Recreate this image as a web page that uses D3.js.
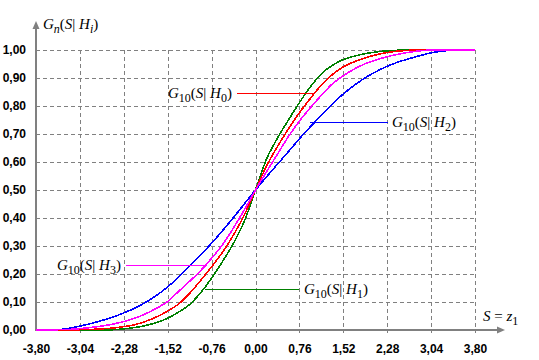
<!DOCTYPE html>
<html><head><meta charset="utf-8">
<script src="https://cdn.jsdelivr.net/npm/d3@7/dist/d3.min.js"></script>
<style>
body{margin:0;background:#fff;}
svg{display:block;}
.tick text{font-family:"Liberation Sans",Arial,sans-serif;font-weight:bold;font-size:12px;fill:#000;}
.math{font-family:"Liberation Serif","Times New Roman",serif;font-size:15px;fill:#000;}
</style></head>
<body><svg id="c" width="539" height="360"></svg>
<script>
// ---- data ----
const S = [-3.80,-3.61,-3.42,-3.23,-3.04,-2.85,-2.66,-2.47,-2.28,-2.09,-1.90,-1.71,-1.52,-1.33,-1.14,-0.95,-0.76,-0.57,-0.38,-0.19,0.00,
           0.19,0.38,0.57,0.76,0.95,1.14,1.33,1.52,1.71,1.90,2.09,2.28,2.47,2.66,2.85,3.04,3.23,3.42,3.61,3.80];
const G_H1 = [0,0,0,0,0,0,0,0.001,0.004,0.009,0.016,0.027,0.042,0.064,0.091,0.133,0.185,0.245,0.310,0.390,0.500,
              0.610,0.685,0.750,0.812,0.868,0.915,0.945,0.966,0.978,0.987,0.993,0.997,0.999,1,1,1,1,1,1,1];
const G_H0 = [0,0,0,0,0.001,0.002,0.004,0.007,0.012,0.019,0.031,0.047,0.068,0.093,0.131,0.177,0.226,0.278,0.340,0.412,0.500,
              0.585,0.655,0.718,0.776,0.827,0.875,0.912,0.940,0.958,0.972,0.983,0.991,0.996,0.999,1,1,1,1,1,1];
const G_H3 = [0,0,0.001,0.002,0.005,0.009,0.014,0.021,0.030,0.042,0.058,0.078,0.102,0.138,0.174,0.212,0.256,0.305,0.365,0.430,0.500,
              0.565,0.628,0.691,0.746,0.794,0.838,0.879,0.908,0.932,0.951,0.965,0.976,0.985,0.992,0.997,1,1,1,1,1];
const G_H2 = [0,0,0.001,0.006,0.014,0.023,0.034,0.046,0.061,0.078,0.099,0.124,0.154,0.189,0.228,0.268,0.310,0.355,0.402,0.451,0.500,
              0.547,0.592,0.637,0.683,0.726,0.767,0.807,0.843,0.874,0.901,0.923,0.942,0.957,0.969,0.980,0.990,0.996,0.999,1,1];
const xTicks = [-3.80,-3.04,-2.28,-1.52,-0.76,0.00,0.76,1.52,2.28,3.04,3.80];
const xTickLabels = ["-3,80","-3,04","-2,28","-1,52","-0,76","0,00","0,76","1,52","2,28","3,04","3,80"];
const yTicks = [0,0.1,0.2,0.3,0.4,0.5,0.6,0.7,0.8,0.9,1.0];
const yTickLabels = ["0,00","0,10","0,20","0,30","0,40","0,50","0,60","0,70","0,80","0,90","1,00"];
const seriesNames = ["H1","H0","H3","H2"];
const seriesValues = [G_H1,G_H0,G_H3,G_H2];
// leader-line anchor points on curves (S, G)
const anchorS = {H0:0.995, H2:0.944, H3:-0.845, H1:-0.874};
const anchorG = {H0:0.845, H2:0.744, H3:0.232, H1:0.145};

// ---- layout / style ----
const colors = {H1:"#008000",H0:"#ff0000",H3:"#ff00ff",H2:"#0000ff"};
const svg = d3.select("#c");
const x = d3.scaleLinear().domain([-3.8,3.8]).range([36,475]);
const y = d3.scaleLinear().domain([0,1]).range([330,50]);
const grey = "#808080";

// grid
const gridH = svg.append("g");
gridH.selectAll("line").data(yTicks.filter(d=>d>0)).join("line")
  .attr("x1",x(-3.8)).attr("x2",x(3.8)).attr("y1",d=>y(d)).attr("y2",d=>y(d))
  .attr("stroke",grey).attr("stroke-dasharray","4,3").attr("shape-rendering","crispEdges");
const gridV = svg.append("g");
gridV.selectAll("line").data(xTicks.filter(d=>d>-3.8)).join("line")
  .attr("x1",d=>Math.round(x(d))+0.5).attr("x2",d=>Math.round(x(d))+0.5).attr("y1",y(1)).attr("y2",y(0)+3)
  .attr("stroke",grey).attr("stroke-dasharray","4,3").attr("shape-rendering","crispEdges");

// axes labels via d3 axes
const ax = svg.append("g").attr("transform",`translate(0,${y(0)})`)
  .call(d3.axisBottom(x).tickValues(xTicks).tickFormat((d,i)=>xTickLabels[i]).tickSize(0).tickPadding(14));
ax.select(".domain").remove();
const ay = svg.append("g").attr("transform",`translate(${x(-3.8)},0)`)
  .call(d3.axisLeft(y).tickValues(yTicks).tickFormat((d,i)=>yTickLabels[i]).tickSize(0).tickPadding(10));
ay.select(".domain").remove();

// axis lines with arrows
svg.append("line").attr("x1",36).attr("x2",36).attr("y1",331).attr("y2",26)
  .attr("stroke",grey).attr("stroke-width",2);
svg.append("path").attr("d","M32.5,29L39.5,29L36,21Z").attr("fill",grey);
svg.append("line").attr("x1",35).attr("x2",499).attr("y1",330).attr("y2",330)
  .attr("stroke",grey).attr("stroke-width",2);
svg.append("path").attr("d","M497,326.5L497,333.5L505,330Z").attr("fill",grey);

// curves
const line = d3.line().x((d,i)=>x(S[i])).y(d=>y(d)).curve(d3.curveMonotoneX);
const order = ["H1","H0","H2","H3"];
order.forEach(n=>{
  const vals = seriesValues[seriesNames.indexOf(n)];
  svg.append("path").datum(vals).attr("d",line)
    .attr("fill","none").attr("stroke",colors[n]).attr("stroke-width",1.6)
    .attr("shape-rendering","crispEdges");
});

// math label helper
function mathLabel(px,py,sub1,sub2,italicSubs){
  const t = svg.append("text").attr("class","math").attr("x",px).attr("y",py);
  t.append("tspan").attr("font-style","italic").text("G");
  t.append("tspan").attr("font-size","12px").attr("dy",4).attr("font-style",italicSubs?"italic":"normal").text(sub1);
  t.append("tspan").attr("dy",-4).text("(");
  t.append("tspan").attr("font-style","italic").text("S");
  t.append("tspan").text("| ");
  t.append("tspan").attr("font-style","italic").text("H");
  t.append("tspan").attr("font-size","12px").attr("dy",4).attr("font-style",italicSubs?"italic":"normal").text(sub2);
  t.append("tspan").attr("dy",-4).text(")");
  return t;
}
// axis titles
mathLabel(43,29,"n","i",true);
const sz = svg.append("text").attr("class","math").attr("x",483).attr("y",321);
sz.append("tspan").attr("font-style","italic").text("S");
sz.append("tspan").text(" = ");
sz.append("tspan").attr("font-style","italic").text("z");
sz.append("tspan").attr("font-size","12px").attr("dy",4).text("1");

// curve labels with leader lines
const labelLayout = [
  {n:"H0", tx:168, ty:98, lx:237},
  {n:"H2", tx:392, ty:127, lx:388},
  {n:"H3", tx:57,  ty:270, lx:126},
  {n:"H1", tx:304, ty:294, lx:299}
];
labelLayout.forEach(L=>{
  const ax0 = x(anchorS[L.n]), ay0 = Math.round(y(anchorG[L.n]))+0.5;
  svg.append("line").attr("x1",L.lx).attr("x2",ax0).attr("y1",ay0).attr("y2",ay0)
    .attr("stroke",colors[L.n]).attr("stroke-width",1).attr("shape-rendering","crispEdges");
  mathLabel(L.tx,L.ty,"10",L.n.slice(1),false);
});
</script></body></html>
